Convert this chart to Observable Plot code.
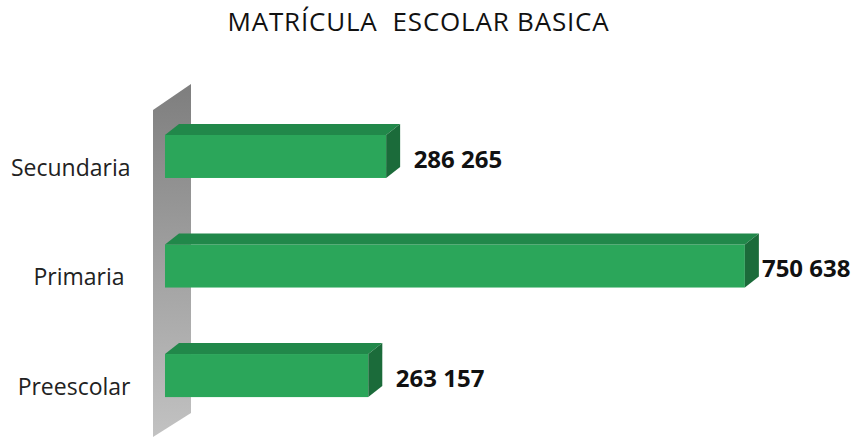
<!DOCTYPE html>
<html>
<head>
<meta charset="utf-8">
<script src="https://cdn.jsdelivr.net/npm/d3@7"></script>
<script src="https://cdn.jsdelivr.net/npm/@observablehq/plot@0.6"></script>
<style>
  body { margin: 0; background: #fff; font-family: "Open Sans", sans-serif; }
  #title {
    box-sizing: border-box; width: 853px; height: 45px; line-height: 43px;
    padding-right: 16px; text-align: center; white-space: pre;
    font-size: 26px; letter-spacing: 0.8px; color: #111;
  }
  #chart svg text { white-space: pre; }
</style>
</head>
<body>
<div id="title">MATRÍCULA  ESCOLAR BASICA</div>
<div id="chart"></div>
<script>
// ---- data ----
const categories = ["Secundaria", "Primaria ", "Preescolar"];
const values = [286265, 750638, 263157];
const valueLabels = ["286 265", "750 638", "263 157"];
const xMax = 800000;

const data = categories.map((c, i) => ({ category: c, value: values[i], label: valueLabels[i] }));

// ---- styles ----
const frontColor = "#2ba65a";
const topColor = "#21884a";
const sideColor = "#1b6b3a";
const DX = 14, DY = -11;           // bar depth offset
const fits = d => d.value <= 0.9 * xMax;

// back wall (grey, 3D side wall)
function wall(index, scales, values, dimensions) {
  const x0 = scales.x(0);
  const H = dimensions.height;
  const top = dimensions.marginTop;
  const g = d3.create("svg:g");
  const grad = g.append("defs").append("linearGradient")
    .attr("id", "wallGrad").attr("x1", 0).attr("y1", 0).attr("x2", 0).attr("y2", 1);
  grad.append("stop").attr("offset", "0%").attr("stop-color", "#7e7e7e");
  grad.append("stop").attr("offset", "100%").attr("stop-color", "#c2c2c2");
  const lx = x0 - 12, rx = x0 + 26;
  g.append("path")
    .attr("d", `M${lx},${top - 3}L${rx},${top - 29}L${rx},${H - 25}L${lx},${H - 1}Z`)
    .attr("fill", "url(#wallGrad)");
  return g.node();
}

// top and side faces of the 3D bars
function faces(index, scales) {
  const sx = scales.x, sy = scales.y;
  const bw = typeof sy.bandwidth === "function" ? sy.bandwidth() : sy.bandwidth;
  const g = d3.create("svg:g");
  for (const d of data) {
    const x0 = sx(0), x1 = sx(d.value), y0 = sy(d.category), y1 = y0 + bw;
    g.append("path")
      .attr("d", `M${x0},${y0}L${x0 + DX},${y0 + DY}L${x1 + DX},${y0 + DY}L${x1},${y0}Z`)
      .attr("fill", topColor);
    g.append("path")
      .attr("d", `M${x1},${y0}L${x1 + DX},${y0 + DY}L${x1 + DX},${y1 + DY}L${x1},${y1}Z`)
      .attr("fill", sideColor);
  }
  return g.node();
}

const chart = Plot.plot({
  width: 853,
  height: 393,
  marginLeft: 165,
  marginRight: 70,
  marginTop: 68,
  marginBottom: 19,
  style: { fontFamily: "Open Sans, sans-serif", background: "#fff", color: "#1a1a1a" },
  x: { domain: [0, xMax], axis: null },
  y: { domain: categories, paddingInner: 0.607, paddingOuter: 0.2, round: false, axis: null },
  marks: [
    wall,
    Plot.barX(data, { x: "value", y: "category", fill: frontColor }),
    faces,
    Plot.text(data.filter(fits), {
      x: "value", y: "category", text: "label", textAnchor: "start",
      dx: 27, dy: 3, fontSize: 24, fontWeight: "bold", fill: "#111"
    }),
    Plot.text(data.filter(d => !fits(d)), {
      y: "category", text: "label", frameAnchor: "right", textAnchor: "end",
      dx: 67, dy: 3, fontSize: 24, fontWeight: "bold", fill: "#111"
    }),
    Plot.axisY({ tickSize: 0, tickPadding: 35, dy: 11.5, fontSize: 23, label: null, fill: "#222" })
  ]
});
document.getElementById("chart").appendChild(chart);
</script>
</body>
</html>
